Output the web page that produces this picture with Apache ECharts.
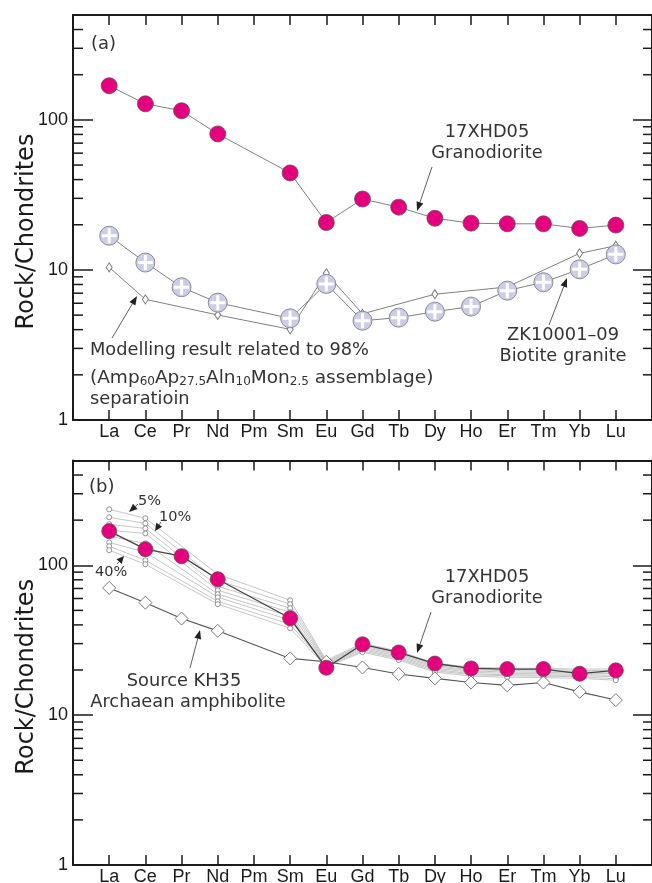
<!DOCTYPE html>
<html>
<head>
<meta charset="utf-8">
<script src="https://cdn.jsdelivr.net/npm/echarts@6/dist/echarts.min.js"></script>
<style>
  html, body { margin: 0; padding: 0; background: #fff; }
  #chart { width: 652px; height: 883px; }
</style>
</head>
<body>
<div id="chart"></div>
<script>
// Chondrite-normalised REE patterns
const ELEMENTS = ['La','Ce','Pr','Nd','Pm','Sm','Eu','Gd','Tb','Dy','Ho','Er','Tm','Yb','Lu'];
const Y_TICK_LABELS = [1, 10, 100];
const MINOR_TICK_VALUES = [2,3,4,5,6,7,8,9,20,30,40,50,60,70,80,90,200,300,400];

const GRANODIORITE_17XHD05 = [169,128,115,80.6,null,44.3,20.7,29.7,26.2,22.1,20.5,20.3,20.3,18.9,19.9];
const BIOTITE_GRANITE_ZK10001_09 = [16.9,11.2,7.67,6.05,null,4.76,8.07,4.59,4.81,5.27,5.70,7.28,8.28,10.1,12.7];
const MODEL_98_SEPARATION = [10.4,6.37,null,5.01,null,4.02,9.5,5.1,null,6.89,null,7.7,null,12.9,14.5];
const SOURCE_KH35 = [70.6,56.3,44.1,36.5,null,23.9,22.7,20.8,18.8,17.6,16.5,15.8,16.5,14.3,12.6];

// partial melts of KH35, 5% to 40% melting
const MELT_05 = [236,206,null,87.1,null,58.4,23.2,30.2,26.7,22.2,20.9,20.6,20.5,20.3,20.3];
const MELT_10 = [209,190,null,79.4,null,55.0,22.8,29.6,26.2,21.8,20.5,20.2,20.1,19.9,19.8];
const MELT_15 = [188,176,null,72.4,null,51.7,22.5,29.0,25.7,21.4,20.1,19.8,19.7,19.5,19.3];
const MELT_20 = [171,163,null,68.1,null,48.6,22.2,28.5,25.2,21.0,19.7,19.4,19.3,19.1,18.9];
const MELT_25 = [156,140,null,64.1,null,45.7,21.9,27.9,24.7,20.6,19.3,19.0,18.9,18.7,18.4];
const MELT_30 = [142,122,null,61.2,null,43.0,21.6,27.4,24.2,20.2,18.9,18.6,18.5,18.4,18.0];
const MELT_35 = [134,108,null,57.5,null,40.4,21.3,26.8,23.8,19.8,18.6,18.3,18.2,18.0,17.5];
const MELT_40 = [126,101.5,null,55.0,null,38.0,21.0,26.3,23.3,19.4,18.2,17.9,17.8,17.6,17.1];
const MELTS = [MELT_05, MELT_10, MELT_15, MELT_20, MELT_25, MELT_30, MELT_35, MELT_40];

const AXIS_COLOR = '#1a1a1a';
const TEXT_COLOR = '#333';
const MAGENTA = '#e5007d';
const LABEL_FONT = 'DejaVu Sans';
const NOTE_SIZE = 17.8;

const pairs = vals => vals.map((v, i) => v == null ? null : [i + 1, v]).filter(Boolean);

const GRIDS = [
  { left: 73, right: 0, top: 15, height: 405, outerBoundsMode: 'none', containLabel: false },
  { left: 73, right: 0, top: 460.5, height: 404.5, outerBoundsMode: 'none', containLabel: false }
];

function xAxesFor(gridIndex) {
  const common = {
    type: 'value', gridIndex, min: 0, max: 16, interval: 1,
    axisLine: { show: true, onZero: false, lineStyle: { color: AXIS_COLOR, width: 2 } },
    axisTick: { show: true, inside: true, length: 10, lineStyle: { color: AXIS_COLOR, width: 1.5 } },
    splitLine: { show: false }
  };
  return [
    Object.assign({}, common, {
      position: 'bottom',
      axisLabel: {
        formatter: v => ELEMENTS[v - 1] || '',
        color: AXIS_COLOR, fontSize: 18, fontFamily: 'Liberation Sans', margin: 3
      }
    }),
    Object.assign({}, common, { position: 'top', axisLabel: { show: false } })
  ];
}

function yAxesFor(gridIndex) {
  const common = {
    type: 'log', gridIndex, min: 1, max: 500, logBase: 10,
    axisLine: { show: true, onZero: false, lineStyle: { color: AXIS_COLOR, width: 2 } },
    splitLine: { show: false }, minorTick: { show: false }
  };
  return [
    Object.assign({}, common, {
      position: 'left',
      axisTick: { show: true, inside: true, length: 20, customValues: Y_TICK_LABELS,
                  lineStyle: { color: AXIS_COLOR, width: 1.5 } },
      axisLabel: {
        customValues: Y_TICK_LABELS,
        formatter: v => String(Math.round(v)),
        color: AXIS_COLOR, fontSize: 18, fontFamily: 'Liberation Sans', margin: 5
      },
      name: 'Rock/Chondrites', nameLocation: 'middle', nameGap: 34, nameRotate: 90,
      nameMoveOverlap: false,
      nameTextStyle: { fontSize: 24, fontFamily: LABEL_FONT, color: AXIS_COLOR, padding: [0, 28, 0, 0] }
    }),
    Object.assign({}, common, {
      position: 'right',
      axisTick: { show: true, inside: true, length: 19, customValues: Y_TICK_LABELS,
                  lineStyle: { color: AXIS_COLOR, width: 1.5 } },
      axisLabel: { show: false }
    })
  ];
}

// minor log ticks (2..9 per decade) on both vertical frame sides
function minorTicks(gridIndex) {
  return {
    type: 'custom', xAxisIndex: gridIndex * 2, yAxisIndex: gridIndex * 2,
    silent: true, clip: false, z: 5,
    data: MINOR_TICK_VALUES.map(v => [0, v]),
    renderItem(params, api) {
      const v = api.value(1);
      const l = api.coord([0, v]);
      const r = api.coord([16, v]);
      const st = { stroke: AXIS_COLOR, lineWidth: 1.5 };
      return {
        type: 'group', children: [
          { type: 'line', shape: { x1: l[0], y1: l[1], x2: l[0] + 10, y2: l[1] }, style: st },
          { type: 'line', shape: { x1: r[0] - 9, y1: r[1], x2: r[0], y2: r[1] }, style: st }
        ]
      };
    }
  };
}

const PLUS = 'path://M4,0h2v4h4v2h-4v4h-2v-4h-4v-2h4z';

const series = [
  minorTicks(0), minorTicks(1),
  // panel (a)
  {
    type: 'line', name: 'Modelling 98%', xAxisIndex: 0, yAxisIndex: 0, z: 10,
    data: pairs(MODEL_98_SEPARATION), symbol: 'diamond', symbolSize: [6, 9],
    lineStyle: { color: '#808080', width: 1 },
    itemStyle: { color: '#fff', borderColor: '#777', borderWidth: 1 }
  },
  {
    type: 'line', name: 'ZK10001-09', xAxisIndex: 0, yAxisIndex: 0, z: 11,
    data: pairs(BIOTITE_GRANITE_ZK10001_09), symbol: 'circle', symbolSize: 19,
    lineStyle: { color: '#808080', width: 1 },
    itemStyle: { color: '#cdcde8', borderColor: '#8a8aa0', borderWidth: 1 }
  },
  {
    type: 'scatter', name: 'ZK10001-09 cross', xAxisIndex: 0, yAxisIndex: 0, z: 12, silent: true,
    data: pairs(BIOTITE_GRANITE_ZK10001_09), symbol: PLUS, symbolSize: 15,
    itemStyle: { color: '#fff', opacity: 1 }
  },
  {
    type: 'line', name: '17XHD05', xAxisIndex: 0, yAxisIndex: 0, z: 13,
    data: pairs(GRANODIORITE_17XHD05), symbol: 'circle', symbolSize: 16,
    lineStyle: { color: '#808080', width: 1 },
    itemStyle: { color: MAGENTA, borderColor: '#6a4a5a', borderWidth: 0.8 }
  },
  // panel (b)
  ...MELTS.map((m, k) => ({
    type: 'line', name: 'melt ' + k, xAxisIndex: 2, yAxisIndex: 2, z: 10,
    data: pairs(m), symbol: 'circle', symbolSize: 5,
    lineStyle: { color: '#b8b8b8', width: 0.8 },
    itemStyle: { color: '#fff', borderColor: '#777', borderWidth: 0.8 }
  })),
  {
    type: 'line', name: 'KH35', xAxisIndex: 2, yAxisIndex: 2, z: 11,
    data: pairs(SOURCE_KH35), symbol: 'diamond', symbolSize: 13,
    lineStyle: { color: '#555', width: 1.1 },
    itemStyle: { color: '#fff', borderColor: '#777', borderWidth: 1 }
  },
  {
    type: 'line', name: '17XHD05 b', xAxisIndex: 2, yAxisIndex: 2, z: 13,
    data: pairs(GRANODIORITE_17XHD05), symbol: 'circle', symbolSize: 15,
    lineStyle: { color: '#444', width: 1.3 },
    itemStyle: { color: MAGENTA, borderColor: '#6a4a5a', borderWidth: 0.8 }
  }
];
series.forEach(s => { s.animation = false; if (s.type === 'line') { s.showAllSymbol = true; s.connectNulls = true; } });

// annotation helpers
function text(str, x, y, align, size) {
  return {
    type: 'text', x, y, z: 100, silent: true,
    style: { text: str, fill: TEXT_COLOR, fontSize: size || NOTE_SIZE, fontFamily: LABEL_FONT,
             align: align || 'center', verticalAlign: 'middle' }
  };
}
function arrow(x1, y1, x2, y2) {
  const dx = x2 - x1, dy = y2 - y1, L = Math.hypot(dx, dy), ux = dx / L, uy = dy / L;
  const hl = Math.min(9, L * 0.7), hw = 3.5;
  const bx = x2 - ux * hl, by = y2 - uy * hl;
  return [
    { type: 'line', z: 100, silent: true, shape: { x1, y1, x2: bx, y2: by }, style: { stroke: '#333', lineWidth: 0.8 } },
    { type: 'polygon', z: 100, silent: true,
      shape: { points: [[x2, y2], [bx - uy * hw, by + ux * hw], [bx + uy * hw, by - ux * hw]] },
      style: { fill: '#222' } }
  ];
}

const graphics = [
  text('(a)', 91, 44, 'left', 18),
  text('17XHD05', 487, 132),
  text('Granodiorite', 487, 153),
  ...arrow(432, 167, 417, 211),
  text('ZK10001\u201309', 563, 335),
  text('Biotite granite', 563, 356),
  ...arrow(549, 325, 567, 278),
  text('Modelling result related to 98%', 90, 350, 'left'),
  {
    type: 'text', x: 90, y: 378, z: 100, silent: true,
    style: {
      text: '(Amp{s|60}Ap{s|27.5}Aln{s|10}Mon{s|2.5} assemblage)',
      fill: TEXT_COLOR, fontSize: 18.5, fontFamily: LABEL_FONT, align: 'left', verticalAlign: 'middle',
      lineHeight: 20,
      rich: { s: { fontSize: 12, fontFamily: LABEL_FONT, fill: TEXT_COLOR, lineHeight: 8, verticalAlign: 'bottom' } }
    }
  },
  text('separatioin', 90, 399, 'left'),
  ...arrow(112, 338, 137, 296),

  text('(b)', 89, 487, 'left', 18),
  text('5%', 138, 501, 'left', 14.5),
  ...arrow(138, 504, 129, 512),
  text('10%', 159, 517, 'left', 14.5),
  ...arrow(161, 522, 155, 531),
  text('40%', 95, 572, 'left', 14.5),
  ...arrow(117, 564, 124, 556),
  text('17XHD05', 487, 577),
  text('Granodiorite', 487, 598),
  ...arrow(431, 612, 417, 653),
  text('Source KH35', 184, 681),
  text('Archaean amphibolite', 188, 702),
  ...arrow(190, 668, 200, 630)
];

const chart = echarts.init(document.getElementById('chart'), null, { renderer: 'canvas' });
chart.setOption({
  animation: false,
  backgroundColor: '#fff',
  grid: GRIDS,
  xAxis: [...xAxesFor(0), ...xAxesFor(1)],
  yAxis: [...yAxesFor(0), ...yAxesFor(1)],
  series,
  graphic: { elements: graphics }
});
</script>
</body>
</html>
